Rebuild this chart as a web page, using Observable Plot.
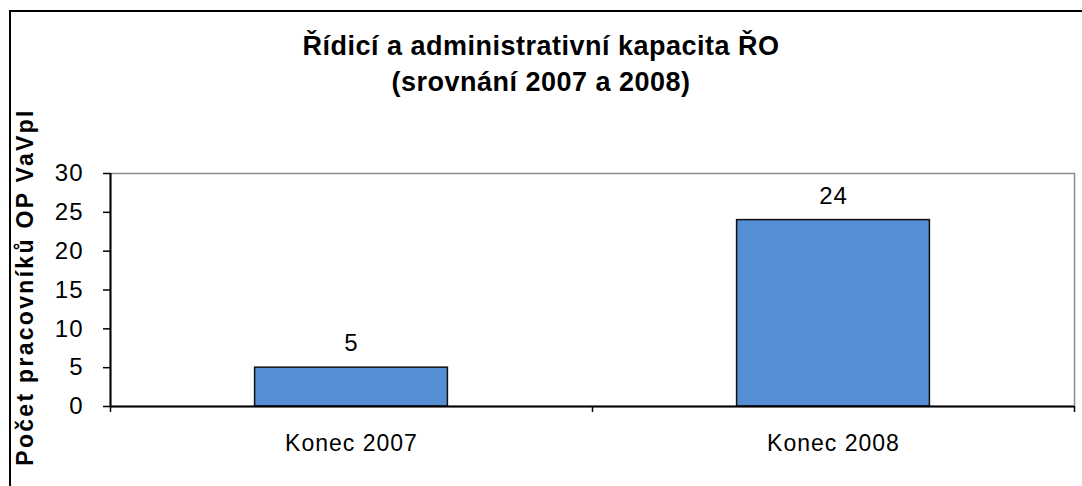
<!DOCTYPE html>
<html>
<head>
<meta charset="utf-8">
<script src="https://cdn.jsdelivr.net/npm/d3@7"></script>
<script src="https://cdn.jsdelivr.net/npm/@observablehq/plot@0.6"></script>
<style>
  html, body { margin: 0; padding: 0; background: #fff; }
  #wrap { position: relative; width: 1082px; height: 486px; overflow: hidden; font-family: "Liberation Sans", Arial, sans-serif; }
  #border { position: absolute; left: 9px; top: 10px; width: 2000px; height: 2000px; border-left: 2px solid #000; border-top: 2px solid #000; box-sizing: border-box; }
  #title { position: absolute; left: 0; width: 1082px; top: 28px; text-align: center; font-weight: bold; font-size: 27px; line-height: 36px; letter-spacing: 0.5px; color: #000; }
  #chart { position: absolute; left: 0; top: 0; }
  #chart svg text { letter-spacing: 1px; }
  #chart svg text.ylab { letter-spacing: 2.3px; }
</style>
</head>
<body>
<div id="wrap">
  <div id="chart"></div>
  <div id="border"></div>
  <div id="title">Řídicí a administrativní kapacita ŘO<br>(srovnání 2007 a 2008)</div>
</div>
<script>
const categories = ["Konec 2007", "Konec 2008"];
const values = [5, 24];
const yTicks = [0, 5, 10, 15, 20, 25, 30];
const yLabel = "Počet pracovníků OP VaVpI";

const data = categories.map((c, i) => ({ category: c, value: values[i], i }));

const chart = Plot.plot({
  width: 1082,
  height: 486,
  marginLeft: 110,
  marginRight: 8,
  marginTop: 173,
  marginBottom: 80,
  style: { fontFamily: "'Liberation Sans', Arial, sans-serif", background: "transparent" },
  x: { type: "linear", domain: [0, categories.length], axis: null },
  y: { domain: [0, 30], axis: null },
  marks: [
    Plot.frame({ stroke: "#8c8c8c", strokeWidth: 1.5 }),
    Plot.rectY(data, { x1: d => d.i + 0.3, x2: d => d.i + 0.7, y1: 0, y2: "value", fill: "#558ed5", stroke: "#111", strokeWidth: 1.5 }),
    Plot.axisY({ ticks: yTicks, tickSize: 7, tickFormat: () => "", color: "#000", strokeWidth: 1.5, strokeOpacity: 1, label: null }),
    Plot.text(yTicks, { y: d => d, frameAnchor: "left", dx: -27, textAnchor: "end", lineAnchor: "middle", text: d => String(d), fontSize: 24, fill: "#000" }),
    Plot.ruleX([0], { stroke: "#000", strokeWidth: 2 }),
    Plot.ruleY([0], { stroke: "#000", strokeWidth: 2 }),
    Plot.axisX({ ticks: d3.range(categories.length + 1), tickSize: 6, tickFormat: () => "", color: "#000", strokeWidth: 1.5, strokeOpacity: 1, label: null }),
    Plot.text(data, { x: d => d.i + 0.5, y: 0, text: "category", dy: 37, fontSize: 23, lineAnchor: "middle", fill: "#000" }),
    Plot.text(data, { x: d => d.i + 0.5, y: "value", text: d => String(d.value), dy: -24, fontSize: 24, lineAnchor: "middle", fill: "#000" }),
    Plot.text([yLabel], { frameAnchor: "left", text: d => d, rotate: -90, dx: -85, dy: -3, fontSize: 23, fontWeight: "bold", fill: "#000", textAnchor: "middle" })
  ]
});
d3.select(chart).selectAll("text").filter(function () { return this.textContent === yLabel; }).classed("ylab", true);
document.getElementById("chart").appendChild(chart);
</script>
</body>
</html>
